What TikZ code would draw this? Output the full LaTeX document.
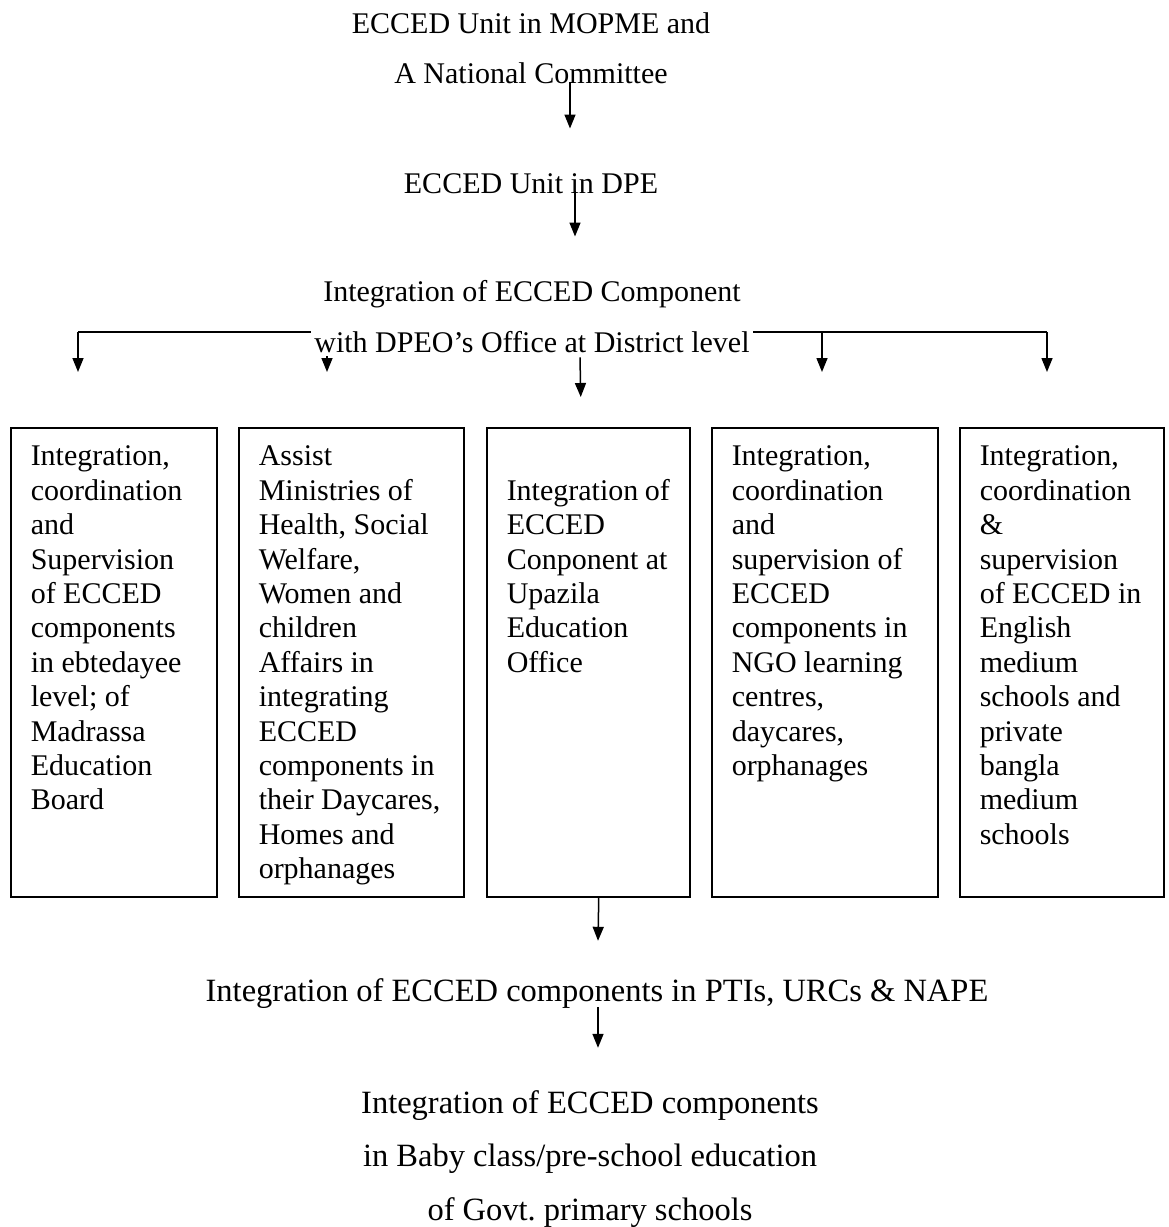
\documentclass[tikz,border=0pt]{standalone}
\usepackage{fontspec}
\setmainfont{Liberation Serif}
\usetikzlibrary{arrows.meta,calc}
\newcommand{\colht}{441pt}
\newcommand{\coltxt}[2]{\parbox[t][\colht][t]{#1}{\strut #2}}
\begin{document}
\begin{tikzpicture}[x=1pt,y=-1pt,line width=1.5pt,
  lvl/.style={inner sep=0pt,align=center,anchor=north,font=\fontsize{30}{50}\selectfont},
  lvlb/.style={lvl,font=\fontsize{32.5}{53.5}\selectfont},
  colbox/.style={draw,anchor=north west,inner xsep=20pt,inner ysep=14pt,font=\fontsize{30}{34.4}\selectfont},
  arr/.style={-{Triangle[length=14pt,width=11pt]}}]
\useasboundingbox (0,0) rectangle (1169,1227);
% branch line sits behind the district text
\coordinate (bl) at (78,332);
\coordinate (br) at (1047,332);
\draw (bl) -- (br);
\foreach \dx in {0,249,744,969}
  \draw[arr] ($(bl)+(\dx,0)$) -- ++(0,40);
\node[lvl] (top) at (531,12) {ECCED Unit in MOPME and\\A National Committee};
\node[lvl] (dpe) at (531,172.5) {ECCED Unit in DPE};
\node[lvl,fill=white,inner sep=3pt,font=\fontsize{30}{51}\selectfont] (intg) at (532,276.5)
  {Integration of ECCED Component\\with DPEO's Office at District level};
\node[colbox] (b1) at (10,427) {\coltxt{166pt}{Integration,\\coordination\\and\\Supervision\\of ECCED\\components\\in ebtedayee\\level; of\\Madrassa\\Education\\Board}};
\node[colbox] (b2) at (238,427) {\coltxt{185pt}{Assist\\Ministries of\\Health, Social\\Welfare,\\Women and\\children\\Affairs in\\integrating\\ECCED\\components in\\their Daycares,\\Homes and\\orphanages}};
\node[colbox] (b3) at (486,427) {\coltxt{163pt}{\\Integration of\\ECCED\\Conponent at\\Upazila\\Education\\Office}};
\node[colbox] (b4) at (711,427) {\coltxt{186pt}{Integration,\\coordination\\and\\supervision of\\ECCED\\components in\\NGO learning\\centres,\\daycares,\\orphanages}};
\node[colbox] (b5) at (959,427) {\coltxt{164pt}{Integration,\\coordination\\\&\\supervision\\of ECCED in\\English\\medium\\schools and\\private\\bangla\\medium\\schools}};
\node[lvlb] (pti) at (597,977.8) {Integration of ECCED components in PTIs, URCs \& NAPE};
\node[lvlb] (base) at (590,1089.8) {Integration of ECCED components\\in Baby class/pre-school education\\of Govt.\ primary schools};
\draw[arr] ($(top.south)+(39,-3)$) -- ($(dpe.north)+(39,-44)$);
\draw[arr] ($(dpe.south)+(44,-3)$) -- ($(intg.north)+(43,-40)$);
\draw[arr] ($(intg.south)+(48,1)$) -- ($(b3.north)+(-7.5,-30)$);
\draw[arr] ($(b3.south)+(10.5,0)$) -- ($(pti.north)+(1,-37)$);
\draw[arr] ($(pti.south)+(1,-2)$) -- ($(base.north)+(8,-42)$);
\end{tikzpicture}
\end{document}
